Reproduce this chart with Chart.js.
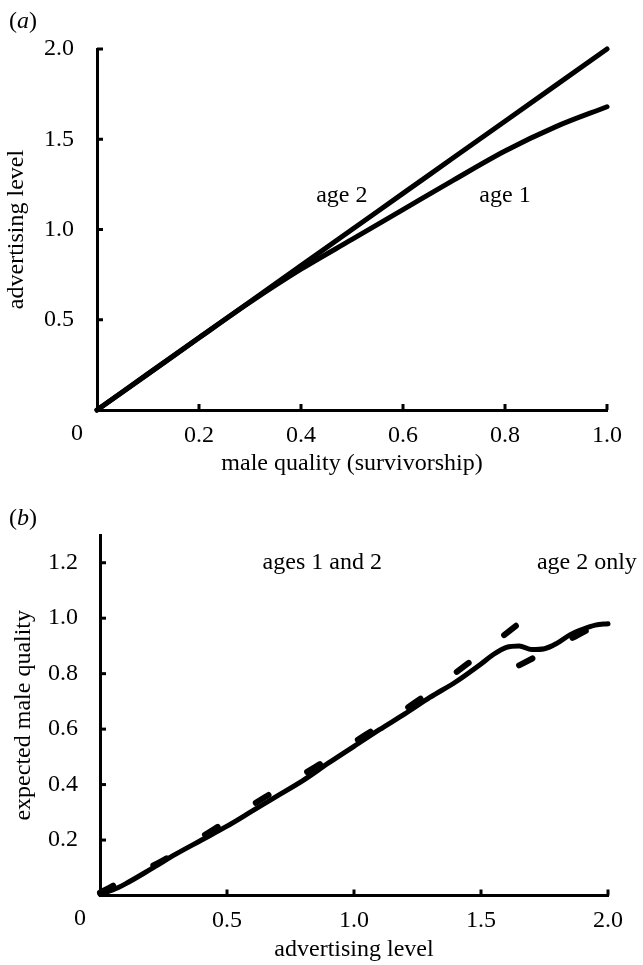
<!DOCTYPE html>
<html lang="en">
<head>
<meta charset="UTF-8">
<title>advertising level</title>
<script src="https://cdn.jsdelivr.net/npm/chart.js"></script>
<style>
  body { margin: 0; background: #fff; }
  .panel { position: absolute; left: 0; width: 643px; }
  #panelA { top: 0; height: 480px; }
  #panelB { top: 480px; height: 485px; }
</style>
</head>
<body>
<div class="panel" id="panelA"><canvas id="chartA"></canvas></div>
<div class="panel" id="panelB"><canvas id="chartB"></canvas></div>
<script>
// panel (a): advertising level against male quality
const quality = [0, 0.1, 0.2, 0.3, 0.4, 0.5, 0.6, 0.7, 0.8, 0.9, 1.0];
const advAge1 = [0, 0.2, 0.4, 0.597, 0.78, 0.945, 1.11, 1.275, 1.435, 1.57, 1.68];
const advAge2 = [0, 0.2, 0.4, 0.6, 0.8, 1.0, 1.2, 1.4, 1.6, 1.8, 2.0];
const ticksAx = [0, 0.2, 0.4, 0.6, 0.8, 1.0];
const ticksAy = [0, 0.5, 1.0, 1.5, 2.0];

// panel (b): expected male quality against advertising level
const levelSolid = [0, 0.05, 0.1, 0.2, 0.3, 0.4, 0.5, 0.6, 0.7, 0.8, 0.9, 1.0, 1.1, 1.2, 1.3, 1.4, 1.5, 1.55, 1.6, 1.65, 1.7, 1.75, 1.8, 1.85, 1.9, 1.95, 2.0];
const qualitySolid = [0.005, 0.02, 0.042, 0.095, 0.15, 0.2, 0.25, 0.305, 0.36, 0.415, 0.478, 0.538, 0.598, 0.655, 0.715, 0.77, 0.835, 0.87, 0.895, 0.9, 0.887, 0.89, 0.91, 0.94, 0.96, 0.975, 0.98];
const levelDashLeft = [0, 0.05, 0.25, 0.45, 0.65, 0.85, 1.05, 1.25, 1.45, 1.645];
const qualityDashLeft = [0.01, 0.035, 0.128, 0.24, 0.355, 0.465, 0.582, 0.702, 0.838, 0.978];
const levelDashRight = [1.65, 1.75, 1.85, 1.95, 2.0];
const qualityDashRight = [0.83, 0.877, 0.924, 0.97, 0.985];
const ticksBx = [0, 0.5, 1.0, 1.5, 2.0];
const ticksBy = [0, 0.2, 0.4, 0.6, 0.8, 1.0, 1.2];

const FONT = '"Liberation Serif", "Times New Roman", serif';
const SIZE = 24;

function pts(xs, ys) {
    return xs.map((x, i) => ({ x: x, y: ys[i] }));
}

function line(data, dashed) {
    return {
        data: data,
        borderColor: '#000',
        borderWidth: dashed ? 6 : 5,
        borderDash: dashed ? [15, 45] : [],
        borderCapStyle: 'round',
        borderJoinStyle: 'round',
        pointRadius: 0,
        fill: false,
        cubicInterpolationMode: 'monotone',
        clip: false
    };
}

function axis(min, max, tickList, title, fitSize, horizontal, titlePad, tickPad) {
    return {
        type: 'linear',
        min: min,
        max: max,
        afterBuildTicks: s => { s.ticks = tickList.map(v => ({ value: v })); },
        afterFit: s => { if (horizontal) s.height = fitSize; else s.width = fitSize; },
        grid: { display: false },
        border: { display: true, color: '#000', width: 3 },
        ticks: {
            color: '#000',
            font: { family: FONT, size: SIZE },
            padding: tickPad,
            autoSkip: false,
            maxRotation: 0,
            callback: v => v === 0 ? '' : v.toFixed(1)
        },
        title: {
            display: true,
            text: title,
            color: '#000',
            font: { family: FONT, size: SIZE },
            padding: titlePad
        }
    };
}

// tick marks inside the axes, the lone "0" at the corner, notes and panel letter
const decor = {
    id: 'decor',
    afterDraw(chart, args, opts) {
        const { ctx, chartArea: a, scales: { x, y } } = chart;
        ctx.save();
        ctx.strokeStyle = '#000';
        ctx.lineWidth = 3;
        x.ticks.forEach(t => {
            if (t.value === 0) return;
            const px = x.getPixelForValue(t.value);
            ctx.beginPath(); ctx.moveTo(px, a.bottom); ctx.lineTo(px, a.bottom - 6); ctx.stroke();
        });
        y.ticks.forEach(t => {
            if (t.value === 0) return;
            const py = y.getPixelForValue(t.value);
            ctx.beginPath(); ctx.moveTo(a.left, py); ctx.lineTo(a.left + 6, py); ctx.stroke();
        });

        ctx.fillStyle = '#000';
        ctx.textBaseline = 'middle';
        ctx.font = SIZE + 'px ' + FONT;
        ctx.textAlign = 'center';
        ctx.fillText('0', x.getPixelForValue(0) - 20, a.bottom + opts.zeroDy);

        opts.notes.forEach(n => {
            ctx.textAlign = n.align || 'center';
            ctx.fillText(n.text, x.getPixelForValue(n.x), y.getPixelForValue(n.y));
        });

        ctx.textAlign = 'left';
        let lx = 9;
        ctx.fillText('(', lx, opts.letterY);
        lx += ctx.measureText('(').width;
        ctx.font = 'italic ' + SIZE + 'px ' + FONT;
        ctx.fillText(opts.letter, lx, opts.letterY);
        lx += ctx.measureText(opts.letter).width;
        ctx.font = SIZE + 'px ' + FONT;
        ctx.fillText(')', lx, opts.letterY);
        ctx.restore();
    }
};

function makeChart(id, datasets, scales, padding, decorOpts) {
    return new Chart(document.getElementById(id), {
        type: 'line',
        data: { datasets: datasets },
        options: {
            responsive: true,
            maintainAspectRatio: false,
            animation: false,
            layout: { padding: padding },
            scales: scales,
            plugins: {
                legend: { display: false },
                tooltip: { enabled: false },
                decor: decorOpts
            }
        },
        plugins: [decor]
    });
}

// Panel (a)
makeChart('chartA',
    [line(pts(quality, advAge2), false), line(pts(quality, advAge1), false)],
    {
        x: axis(0, 1.0, ticksAx, 'male quality (survivorship)', 70, true, { top: 0, bottom: 2 }, 3),
        y: axis(0, 2.0, ticksAy, 'advertising level', 97, false, { top: 2, bottom: 0 }, 15)
    },
    { left: 0, top: 49, right: 36, bottom: 0 },
    {
        letter: 'a', letterY: 22, zeroDy: 24,
        notes: [
            { text: 'age 2', x: 0.48, y: 1.19 },
            { text: 'age 1', x: 0.80, y: 1.19 }
        ]
    }
);

// Panel (b)
makeChart('chartB',
    [
        line(pts(levelDashLeft, qualityDashLeft), true),
        line(pts(levelDashRight, qualityDashRight), true),
        line(pts(levelSolid, qualitySolid), false)
    ],
    {
        x: axis(0, 2.0, ticksBx, 'advertising level', 69.5, true, { top: 0, bottom: 1 }, 3),
        y: axis(0, 1.3, ticksBy, 'expected male quality', 100, false, { top: 9, bottom: 0 }, 14)
    },
    { left: 0, top: 55, right: 35, bottom: 0 },
    {
        letter: 'b', letterY: 39, zeroDy: 23,
        notes: [
            { text: 'ages 1 and 2', x: 0.875, y: 1.2 },
            { text: 'age 2 only', x: 1.72, y: 1.2, align: 'left' }
        ]
    }
);
</script>
</body>
</html>
